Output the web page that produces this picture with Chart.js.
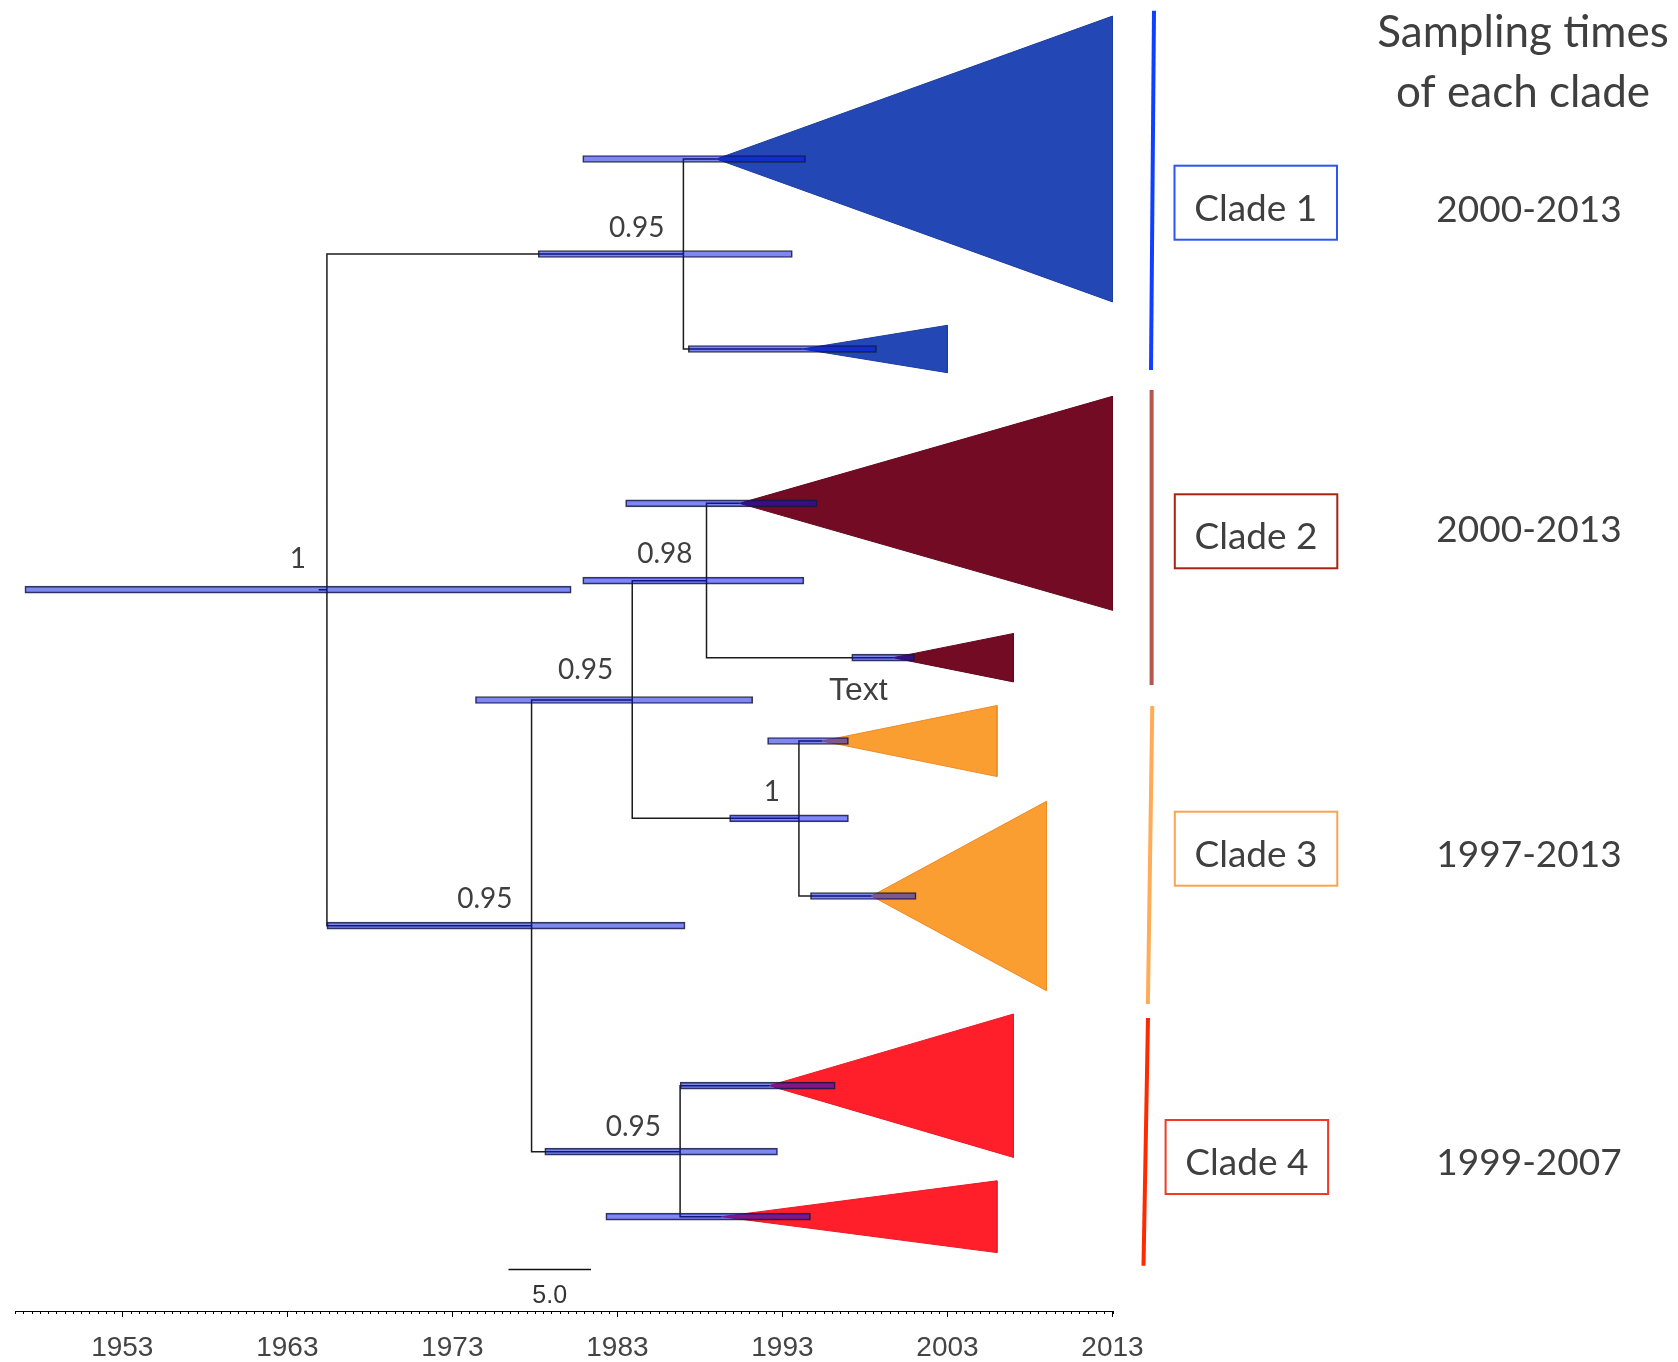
<!DOCTYPE html>
<html>
<head>
<meta charset="utf-8">
<title>Time-scaled phylogeny</title>
<script src="https://cdn.jsdelivr.net/npm/chart.js@4.4.1/dist/chart.umd.min.js"></script>
<style>
  html, body { margin: 0; padding: 0; background: #ffffff; }
  canvas { display: block; }
</style>
</head>
<body>
<canvas id="tree" width="1678" height="1362"></canvas>
<script>
// Time-scaled phylogeny: internal nodes with 95% HPD bars, collapsed clades as triangles.

// Internal nodes (R = root)
const nodeIds     = ['R', 'A', 'B', 'C', 'D', 'E', 'F'];
const nodeParent  = [null, 'R', 'R', 'B', 'C', 'C', 'B'];
const nodeYear    = [1965.4, 1987.0, 1977.8, 1983.9, 1988.4, 1994.0, 1986.8];
const nodeRow     = [589.7, 254.0, 925.7, 700.0, 580.7, 818.3, 1151.7];
const nodeSupport = ['1', '0.95', '0.95', '0.95', '0.98', '1', '0.95'];
const nodeHpdLow  = [1947.1, 1978.2, 1965.4, 1974.4, 1980.9, 1989.8, 1978.6];
const nodeHpdHigh = [1980.2, 1993.6, 1987.1, 1991.2, 1994.3, 1997.0, 1992.7];
const rootStubYear = 1964.9;

// Collapsed subtrees
const tipClade   = [1, 1, 2, 2, 3, 3, 4, 4];
const tipParent  = ['A', 'A', 'D', 'D', 'E', 'E', 'F', 'F'];
const tipYear    = [1989.0, 1994.2, 1990.4, 1999.7, 1995.4, 1998.4, 1992.2, 1989.3];
const tipLatest  = [2013.0, 2003.0, 2013.0, 2007.0, 2006.0, 2009.0, 2007.0, 2006.0];
const tipRow     = [159.0, 349.0, 503.3, 657.7, 741.0, 896.0, 1085.7, 1216.7];
const tipSpread  = [142.9, 23.7, 107.0, 24.2, 35.5, 94.7, 71.7, 35.9];
const tipHpdLow  = [1980.9, 1987.3, 1983.5, 1997.2, 1992.1, 1994.7, 1986.8, 1982.3];
const tipHpdHigh = [1994.4, 1998.7, 1995.1, 2001.0, 1997.0, 2001.1, 1996.2, 1994.7];

// Clades and their sampling periods
const cladeNames    = ['Clade 1', 'Clade 2', 'Clade 3', 'Clade 4'];
const cladeSampling = ['2000-2013', '2000-2013', '1997-2013', '1999-2007'];
const samplingTitle = ['Sampling times', 'of each clade'];

// Time axis
const axisStart  = 1946.5;
const axisEnd    = 2013;
const majorTicks = [1953, 1963, 1973, 1983, 1993, 2003, 2013];
const scaleBarStart  = 1976.4;
const scaleBarLength = 5.0;
const looseLabel = { text: 'Text', year: 1997.6, row: 700 };

// ---- styling and layout ----
const ROW_EXTENT = 1311;
const MINOR_STEP = 0.5;
const cladeFill = ['#2348b5', '#720b23', '#fb9e32', '#fe1f2b'];
const cladeEdge = ['#1e3e9e', '#62091e', '#ee8a24', '#e81a26'];
const cladeLine = ['#1040ff', '#b3574f', '#ffab57', '#ff2a00'];
const cladeBox  = ['#2d55f0', '#a82312', '#f8a453', '#f03a25'];
const SUPPORT_LAYOUT = {
  dx: -19, dy: -17.5,
  nudgeX: [-2, 0, 0, 0, 5, 0, 0],
  nudgeY: [-4, 0, 0, -4, 0, 0, 2]
};
const CLADE_LAYOUT = {
  spanTop:      [10.7, 390, 706, 1018],
  spanBottom:   [370, 685, 1004, 1265.7],
  lineDxTop:    [41.5, 39.1, 39.8, 35.5],
  lineDxBottom: [38.5, 39.1, 35.4, 31.0],
  boxDx:        [62.0, 62.3, 62.3, 53.1],
  boxTop:       [165.7, 494.3, 811.7, 1120],
  boxW: 162.5, boxH: 74, labelDy: 55,
  rangeDx: 416.5,
  rangeBaseline: [221.7, 541.7, 866.7, 1175],
  titleDx: 410.5,
  titleBaseline: [46.7, 106.7]
};
const TEXT_GREY = '#3f3f3f';
const HUMANIST = 'Lato, "Open Sans", sans-serif';
const GROTESK = '"Liberation Sans", Arial, sans-serif';

// ---- datasets ----
const rowOf = id => nodeRow[nodeIds.indexOf(id)];
const yearOf = id => nodeYear[nodeIds.indexOf(id)];
const BREAK = { x: null, y: null };

const branchPoints = [];
nodeIds.forEach((id, i) => {
  const p = nodeParent[i];
  if (p === null) {
    branchPoints.push({ x: rootStubYear, y: nodeRow[i] }, { x: nodeYear[i], y: nodeRow[i] }, BREAK);
  } else {
    branchPoints.push({ x: yearOf(p), y: rowOf(p) }, { x: yearOf(p), y: nodeRow[i] },
                      { x: nodeYear[i], y: nodeRow[i] }, BREAK);
  }
});
tipYear.forEach((yr, i) => {
  const p = tipParent[i];
  branchPoints.push({ x: yearOf(p), y: rowOf(p) }, { x: yearOf(p), y: tipRow[i] },
                    { x: yr, y: tipRow[i] }, BREAK);
});

const triangleSets = tipYear.map((yr, i) => ({
  type: 'line',
  data: [
    { x: yr, y: tipRow[i] },
    { x: tipLatest[i], y: tipRow[i] - tipSpread[i] },
    { x: tipLatest[i], y: tipRow[i] + tipSpread[i] },
    { x: yr, y: tipRow[i] }
  ],
  fill: 'shape',
  backgroundColor: cladeFill[tipClade[i] - 1],
  borderColor: cladeEdge[tipClade[i] - 1],
  borderWidth: 1,
  pointRadius: 0,
  tension: 0,
  order: 3,
  clip: false
}));

const hpdData = nodeIds.map((id, i) => ({ y: nodeRow[i], x: [nodeHpdLow[i], nodeHpdHigh[i]] }))
  .concat(tipYear.map((yr, i) => ({ y: tipRow[i], x: [tipHpdLow[i], tipHpdHigh[i]] })));

const datasets = [
  {
    type: 'bar',
    indexAxis: 'y',
    data: hpdData,
    backgroundColor: 'rgba(0, 17, 225, 0.5)',
    borderColor: 'rgba(25, 25, 35, 0.85)',
    borderWidth: 1,
    borderSkipped: false,
    barThickness: 7,
    order: 1,
    clip: false
  },
  {
    type: 'line',
    data: branchPoints,
    borderColor: '#1c1c1c',
    borderWidth: 1.5,
    pointRadius: 0,
    spanGaps: false,
    fill: false,
    tension: 0,
    order: 2,
    clip: false
  }
].concat(triangleSets);

// ---- annotations drawn with the chart's own scales ----
const treeAnnotations = {
  id: 'treeAnnotations',
  afterDraw(chart) {
    const ctx = chart.ctx;
    const xs = chart.scales.x, ys = chart.scales.y;
    const axisY = chart.chartArea.bottom;

    // minor ticks of the time axis
    ctx.save();
    ctx.strokeStyle = '#000';
    ctx.lineWidth = 1;
    ctx.beginPath();
    for (let v = axisStart; v <= axisEnd + 1e-9; v += MINOR_STEP) {
      const px = Math.round(xs.getPixelForValue(v)) + 0.5;
      ctx.moveTo(px, axisY);
      ctx.lineTo(px, axisY + 3);
    }
    ctx.stroke();

    // posterior support labels
    const S = SUPPORT_LAYOUT;
    ctx.fillStyle = TEXT_GREY;
    ctx.font = '28px ' + HUMANIST;
    ctx.textAlign = 'right';
    ctx.textBaseline = 'alphabetic';
    nodeSupport.forEach((s, i) => {
      ctx.fillText(s, xs.getPixelForValue(nodeYear[i]) + S.dx + S.nudgeX[i],
                      ys.getPixelForValue(nodeRow[i]) + S.dy + S.nudgeY[i]);
    });

    // loose label near clade 2
    ctx.font = '32px ' + GROTESK;
    ctx.textAlign = 'center';
    ctx.fillText(looseLabel.text, xs.getPixelForValue(looseLabel.year), ys.getPixelForValue(looseLabel.row));

    // scale bar
    const sb0 = xs.getPixelForValue(scaleBarStart);
    const sb1 = xs.getPixelForValue(scaleBarStart + scaleBarLength);
    const sbY = Math.round(ys.getPixelForValue(1269)) + 0.5;
    ctx.strokeStyle = '#111';
    ctx.lineWidth = 1.5;
    ctx.beginPath(); ctx.moveTo(sb0, sbY); ctx.lineTo(sb1, sbY); ctx.stroke();
    ctx.font = '25px ' + GROTESK;
    ctx.fillStyle = '#333';
    ctx.fillText(scaleBarLength.toFixed(1), (sb0 + sb1) / 2, ys.getPixelForValue(1303));

    // clade brackets, boxes and sampling periods
    const x0 = xs.getPixelForValue(axisEnd);
    const L = CLADE_LAYOUT;
    cladeNames.forEach((name, c) => {
      ctx.strokeStyle = cladeLine[c];
      ctx.lineWidth = 4;
      ctx.beginPath();
      ctx.moveTo(x0 + L.lineDxTop[c], ys.getPixelForValue(L.spanTop[c]));
      ctx.lineTo(x0 + L.lineDxBottom[c], ys.getPixelForValue(L.spanBottom[c]));
      ctx.stroke();

      const bx = x0 + L.boxDx[c];
      const by = ys.getPixelForValue(L.boxTop[c]);
      ctx.strokeStyle = cladeBox[c];
      ctx.lineWidth = 2;
      ctx.strokeRect(bx, by, L.boxW, L.boxH);

      ctx.fillStyle = TEXT_GREY;
      ctx.font = '37px ' + HUMANIST;
      ctx.textAlign = 'center';
      ctx.fillText(name, bx + L.boxW / 2, by + L.labelDy);
      ctx.fillText(cladeSampling[c], x0 + L.rangeDx, ys.getPixelForValue(L.rangeBaseline[c]));
    });

    ctx.font = '44px ' + HUMANIST;
    samplingTitle.forEach((t, k) => {
      ctx.fillText(t, x0 + L.titleDx, ys.getPixelForValue(L.titleBaseline[k]));
    });
    ctx.restore();
  }
};

function drawTree() {
  new Chart(document.getElementById('tree'), {
    type: 'scatter',
    data: { datasets },
    options: {
      responsive: false,
      animation: false,
      devicePixelRatio: 1,
      events: [],
      layout: { padding: { left: 15, right: 565.5, top: 0, bottom: 0 } },
      plugins: { legend: { display: false }, tooltip: { enabled: false } },
      scales: {
        x: {
          type: 'linear',
          position: 'bottom',
          min: axisStart,
          max: axisEnd,
          offset: false,
          grace: 0,
          beginAtZero: false,
          afterBuildTicks: s => { s.ticks = majorTicks.map(v => ({ value: v })); },
          afterFit: s => { s.height = 51; },
          ticks: {
            autoSkip: false,
            maxRotation: 0,
            padding: 14,
            color: '#444',
            font: { family: GROTESK, size: 28 },
            callback: v => String(v)
          },
          grid: { drawOnChartArea: false, drawTicks: true, tickLength: 6, tickColor: '#000', tickWidth: 1, offset: false },
          border: { display: true, color: '#000', width: 1 }
        },
        y: {
          type: 'linear',
          display: false,
          reverse: true,
          offset: false,
          grace: 0,
          beginAtZero: false,
          grid: { offset: false },
          min: 0,
          max: ROW_EXTENT
        }
      }
    },
    plugins: [treeAnnotations]
  });
}

Promise.all([
  document.fonts.load('28px Lato'),
  document.fonts.load('28px "Liberation Sans"')
]).then(drawTree, drawTree);
</script>
</body>
</html>
